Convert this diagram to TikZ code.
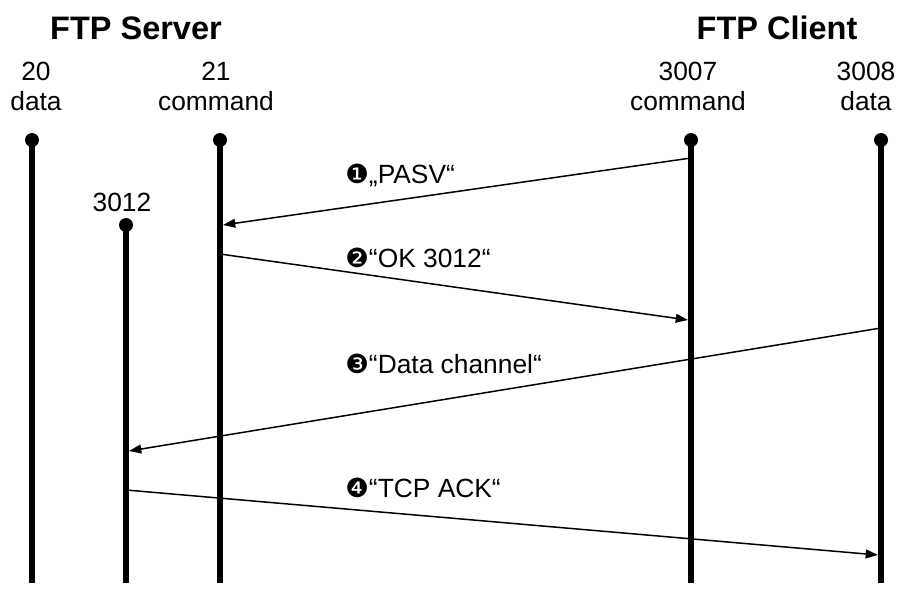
\documentclass[tikz,border=0pt]{standalone}
\usepackage{fontspec}
\setmainfont{Liberation Sans}
\newfontfamily\dingfont{DejaVu Sans}
\usetikzlibrary{arrows.meta}
\tikzset{
  titre/.style={font=\fontsize{18.5}{20}\selectfont\bfseries},
  port/.style={align=center,font=\fontsize{15}{17}\selectfont,inner sep=0pt},
  vie/.style={line width=3.4pt},
  msg/.style={line width=0.85pt,-{Triangle[length=7pt,width=5pt]}},
  etiq/.style={anchor=west,font=\fontsize{15}{17}\selectfont,inner sep=0pt}
}
\begin{document}
\begin{tikzpicture}[line join=round,x=0.02cm,y=-0.02cm]
		% Cadre
		\useasboundingbox (0,0) rectangle (913,608);
		
		% Titres
		\node[titre] (serveur) at (136,28) {FTP Server};
		\node[titre] (client) at (777,28) {FTP Client};
		
		% Ports
		\node[port] (p20) at (36,86) {20\\data};
		\node[port] (p21) at (216,86) {21\\command};
		\node[port] (p3007) at (688,86) {3007\\command};
		\node[port] (p3008) at (866,86) {3008\\data};
		\node[port] (p3012) at (122,202) {3012};
		
		% Lignes de vie
		\coordinate (h20) at (32,140);   \coordinate (b20) at (32,583);
		\coordinate (h21) at (220,140);  \coordinate (b21) at (220,583);
		\coordinate (h3012) at (126,225); \coordinate (b3012) at (126,583);
		\coordinate (h3007) at (691,140); \coordinate (b3007) at (691,583);
		\coordinate (h3008) at (881,140); \coordinate (b3008) at (881,583);
		\foreach \p in {20,21,3012,3007,3008}{
			\draw[vie] (h\p) -- (b\p);
			\fill (h\p) circle (7);
		}
		
		% Messages
		\coordinate (m1a) at (691,158); \coordinate (m1b) at (223,225);
		\coordinate (m2a) at (220,254); \coordinate (m2b) at (688,320);
		\coordinate (m3a) at (881,328); \coordinate (m3b) at (129,451);
		\coordinate (m4a) at (126,490); \coordinate (m4b) at (878,555);
		\draw[msg] (m1a) -- (m1b);
		\draw[msg] (m2a) -- (m2b);
		\draw[msg] (m3a) -- (m3b);
		\draw[msg] (m4a) -- (m4b);
		
		% Etiquettes des messages
		\node[etiq] (e1) at (345,175) {{\dingfont ❶}„PASV“};
		\node[etiq] (e2) at (345,258) {{\dingfont ❷}“OK 3012“};
		\node[etiq] (e3) at (345,364) {{\dingfont ❸}“Data channel“};
		\node[etiq] (e4) at (345,488) {{\dingfont ❹}“TCP ACK“};
\end{tikzpicture}
\end{document}
